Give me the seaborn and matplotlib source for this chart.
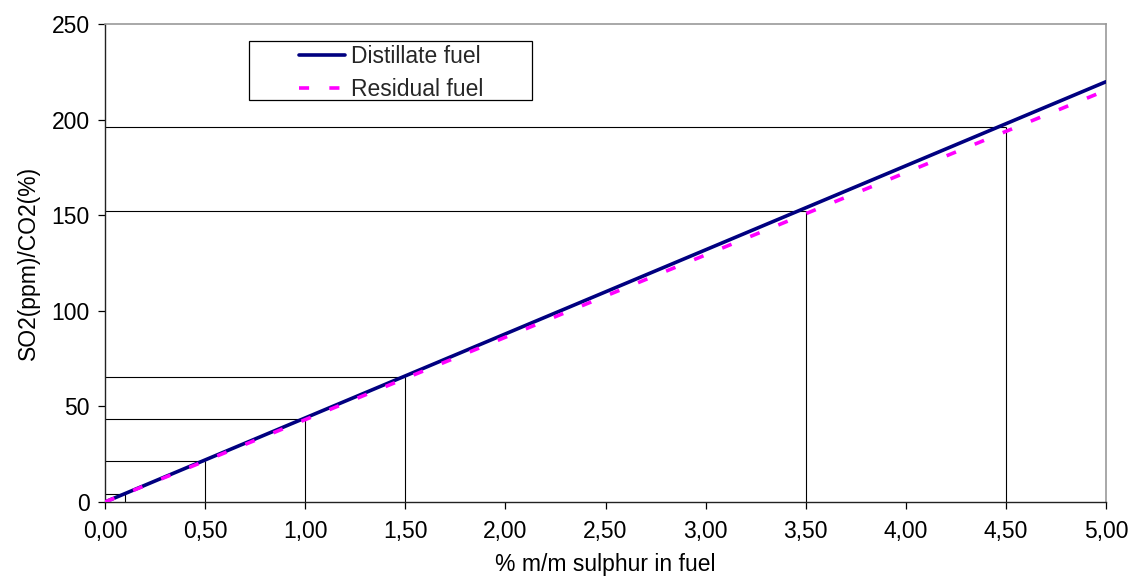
import matplotlib
matplotlib.use("Agg")
import matplotlib.pyplot as plt
import seaborn as sns
import pandas as pd
from matplotlib.ticker import FuncFormatter, MultipleLocator
from matplotlib.patches import Rectangle

# Data
sulphur = [0.0, 0.1, 0.5, 1.0, 1.5, 3.5, 4.5, 5.0]
distillate = [0.0, 4.4, 22.0, 44.0, 66.0, 154.0, 198.0, 220.0]
residual = [0.0, 4.3, 21.5, 43.1, 64.7, 150.9, 194.0, 215.5]
ref_sulphur = [0.1, 0.5, 1.0, 1.5, 3.5, 4.5]
ref_ratio = [4.4, 21.6, 43.2, 65.3, 152.2, 196.5]
series_names = ["Distillate fuel", "Residual fuel"]

sns.set_theme(style="white")
plt.rcParams["font.family"] = ["Liberation Sans", "DejaVu Sans"]

fig = plt.figure(figsize=(11.32, 5.82), dpi=100)
ax = fig.add_axes([0.0928, 0.1375, 0.8842, 0.8205])

# reference lines
ax.vlines(ref_sulphur, 0, ref_ratio, colors="black", linewidth=0.8, zorder=1)
ax.hlines(ref_ratio, 0, ref_sulphur, colors="black", linewidth=0.8, zorder=1)

df = pd.DataFrame({"x": sulphur, "y": distillate})
sns.lineplot(data=df, x="x", y="y", ax=ax, color="#000080", linewidth=2.6,
             label=series_names[0], zorder=3)
df2 = pd.DataFrame({"x": sulphur, "y": residual})
sns.lineplot(data=df2, x="x", y="y", ax=ax, color="#ff00ff", linewidth=2.6,
             label=series_names[1], zorder=4)
ax.lines[-1].set_dashes((2.8, 5.6))

ax.set_xlim(0, 5)
ax.set_ylim(0, 250)
ax.xaxis.set_major_locator(MultipleLocator(0.5))
ax.yaxis.set_major_locator(MultipleLocator(50))
ax.xaxis.set_major_formatter(FuncFormatter(lambda v, p: f"{v:.2f}".replace(".", ",")))
ax.yaxis.set_major_formatter(FuncFormatter(lambda v, p: f"{int(v)}"))

ax.tick_params(axis="both", which="major", direction="out", length=5, width=0.9,
               color="black", labelsize=16.5, labelcolor="black", pad=6)
ax.tick_params(axis="x", pad=8)
ax.tick_params(left=True, bottom=True)

for s in ["left", "bottom"]:
    ax.spines[s].set_color("#222222")
    ax.spines[s].set_linewidth(1.0)
for s in ["top", "right"]:
    ax.spines[s].set_color("#999999")
    ax.spines[s].set_linewidth(1.2)

ax.set_xlabel("% m/m sulphur in fuel", fontsize=16.5, color="black", labelpad=7)
ax.set_ylabel("SO2(ppm)/CO2(%)", fontsize=16.5, color="black", labelpad=8)

leg = ax.legend(loc="upper left", bbox_to_anchor=(0.194, 0.956), borderaxespad=0,
                frameon=False, fontsize=16.5, handlelength=2.0,
                handletextpad=0.26, borderpad=0.0, labelspacing=0.42)
leg.set_zorder(6)
frame = Rectangle((0.1439, 0.8408), 0.2827, 0.1236, transform=ax.transAxes,
                  facecolor="white", edgecolor="black", linewidth=0.9, zorder=5)
ax.add_patch(frame)

fig.savefig("out.png", dpi=100)
